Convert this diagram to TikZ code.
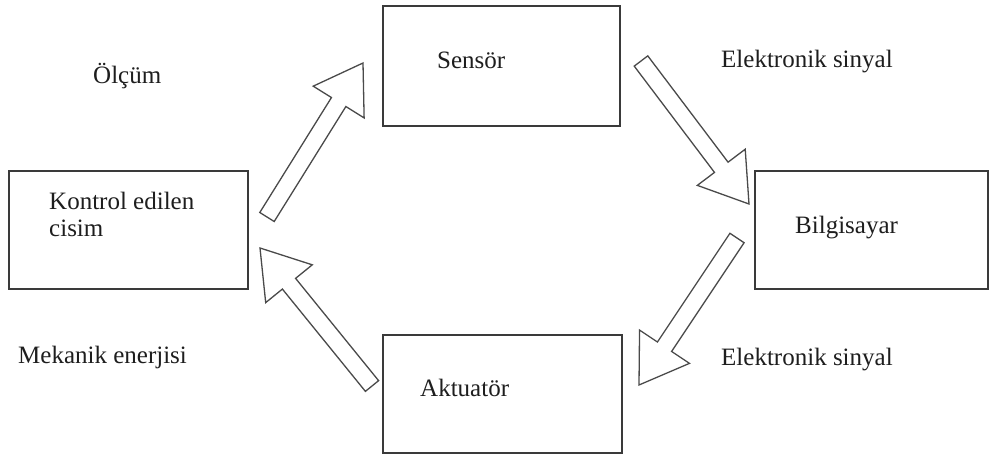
\documentclass[tikz,border=0pt]{standalone}
\usepackage{fontspec}
\setmainfont{Liberation Serif}
\usetikzlibrary{calc}

\definecolor{boxline}{HTML}{3A3A3A}
\definecolor{arrowline}{HTML}{4A4A4A}
\definecolor{ink}{HTML}{1E1E1E}

\tikzset{
  box/.style={draw=boxline, line width=1.8pt, minimum width=#1, inner sep=0pt},
  boxh/.style={minimum height=#1},
  lbl/.style={anchor=base west, inner sep=0pt, text=ink,
              font=\fontsize{25}{27}\selectfont},
  arrowbody/.style={draw=arrowline, line width=1.3pt, fill=white, line join=miter},
}

% hollow block arrow from tail #1 to tip #2
\newcommand{\hollowarrow}[2]{%
  \path ($(#2)!46pt!(#1)$) coordinate (ha-n);
  \draw[arrowbody]
    ($(#1)!8.5pt!90:(#2)$) -- ($(ha-n)!8.5pt!-90:(#1)$) --
    ($(ha-n)!30pt!-90:(#1)$) -- (#2) --
    ($(ha-n)!30pt!90:(#1)$) -- ($(ha-n)!8.5pt!90:(#1)$) --
    ($(#1)!8.5pt!-90:(#2)$) -- cycle;}

\begin{document}
\begin{tikzpicture}[x=1pt, y=-1pt]
  \useasboundingbox[fill=white] (0,0) rectangle (991,455);

  % boxes
  \node[box=239pt, boxh=118pt] (kontrol) at (128.5,230) {};
  \node[box=237pt, boxh=120pt] (sensor)  at (501.5,66) {};
  \node[box=233pt, boxh=118pt] (bilgi)   at (871.5,230) {};
  \node[box=239pt, boxh=118pt] (aktu)    at (502.5,394) {};

  % box texts
  \node[lbl] (t-sensor) at (437,68)  {Sensör};
  \node[lbl] (t-kon1)   at (49,209)  {Kontrol edilen};
  \node[lbl] (t-kon2)   at (49,236)  {cisim};
  \node[lbl] (t-bilgi)  at (795,233) {Bilgisayar};
  \node[lbl] (t-aktu)   at (420,396) {Aktuatör};

  % flow labels
  \node[lbl] (t-olcum)  at (93,83)   {Ölçüm};
  \node[lbl] (t-sig1)   at (721,67)  {Elektronik sinyal};
  \node[lbl] (t-sig2)   at (721,365) {Elektronik sinyal};
  \node[lbl] (t-mek)    at (18,363)  {Mekanik enerjisi};

  % arrow ends
  \coordinate (a1-tail) at (267,217);
  \coordinate (a1-tip)  at (363,63);
  \coordinate (a2-tail) at (641,61);
  \coordinate (a2-tip)  at (749,204);
  \coordinate (a3-tail) at (737,238);
  \coordinate (a3-tip)  at (639,385);
  \coordinate (a4-tail) at (372,386);
  \coordinate (a4-tip)  at (260,248);

  % block arrows around the loop
  \hollowarrow{a1-tail}{a1-tip}
  \hollowarrow{a2-tail}{a2-tip}
  \hollowarrow{a3-tail}{a3-tip}
  \hollowarrow{a4-tail}{a4-tip}
\end{tikzpicture}
\end{document}
